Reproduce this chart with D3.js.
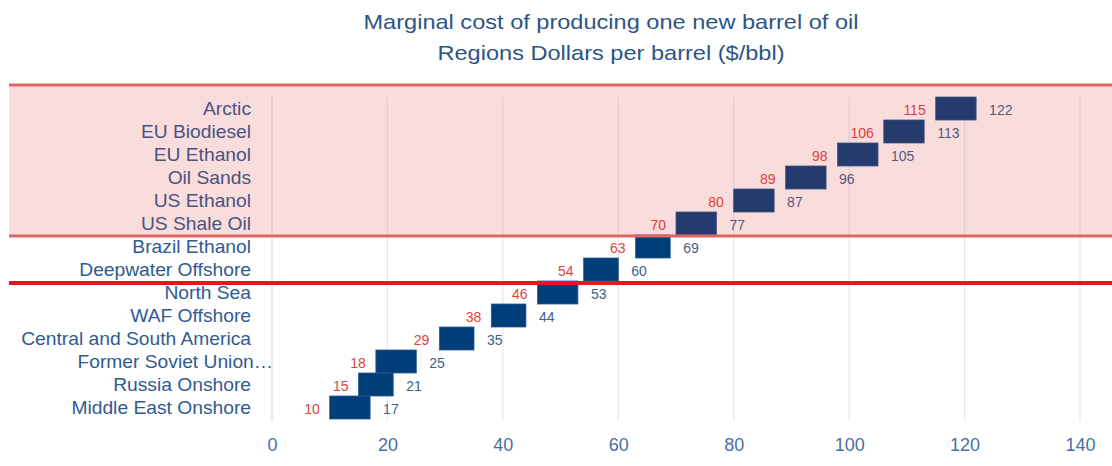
<!DOCTYPE html>
<html>
<head>
<meta charset="utf-8">
<script src="https://cdn.jsdelivr.net/npm/d3@7"></script>
<style>
  html, body { margin: 0; padding: 0; background: #ffffff; }
  svg { display: block; font-family: "Liberation Sans", Arial, sans-serif; }
</style>
</head>
<body>
<svg id="chart" width="1112" height="466"></svg>
<script>
// Regions, top of the chart first
const regions = [
  "Arctic", "EU Biodiesel", "EU Ethanol", "Oil Sands", "US Ethanol", "US Shale Oil",
  "Brazil Ethanol", "Deepwater Offshore", "North Sea", "WAF Offshore",
  "Central and South America", "Former Soviet Union\u2026", "Russia Onshore", "Middle East Onshore"
];
// Low and high marginal cost, $/bbl
const lowCost  = [115, 106, 98, 89, 80, 70, 63, 54, 46, 38, 29, 18, 15, 10];
const highCost = [122, 113, 105, 96, 87, 77, 69, 60, 53, 44, 35, 25, 21, 17];
const xTicks = [0, 20, 40, 60, 80, 100, 120, 140];
const titleLines = [
  "Marginal cost of producing one new barrel of oil",
  "Regions Dollars per barrel ($/bbl)"
];

const rows = regions.map((r, i) => ({ region: r, low: lowCost[i], high: highCost[i] }));

const svg = d3.select("#chart");

const x = d3.scaleLinear().domain([0, 140]).range([272, 1080]);
const y = d3.scaleBand().domain(regions).range([97, 419]).padding(0);

// Title, set in a slightly widened face
svg.append("g")
  .attr("transform", "translate(611,0) scale(1.15,1)")
  .selectAll("text")
  .data(titleLines)
  .join("text")
  .attr("x", 0)
  .attr("y", (d, i) => 29 + i * 31)
  .attr("text-anchor", "middle")
  .attr("font-size", 20.5)
  .attr("fill", "#2d5585")
  .text(d => d);

// Vertical gridlines
svg.append("g")
  .selectAll("line")
  .data(xTicks)
  .join("line")
  .attr("x1", d => x(d)).attr("x2", d => x(d))
  .attr("y1", 97).attr("y2", 421)
  .attr("stroke", d => d === 0 ? "#d4dae3" : "#e3e9f1")
  .attr("stroke-width", 1.2);

// Bottom axis labels
const xAxis = svg.append("g")
  .attr("transform", "translate(0,438)")
  .call(d3.axisBottom(x).tickValues(xTicks).tickSize(0).tickPadding(0));
xAxis.select(".domain").remove();
xAxis.selectAll("text")
  .attr("font-size", 18)
  .attr("font-family", "Liberation Sans, Arial, sans-serif")
  .attr("fill", "#4a70a2");

// Category axis, right edge fixed, widened face
const yAxis = svg.append("g")
  .attr("transform", "translate(251,0) scale(1.1,1)")
  .call(d3.axisLeft(y).tickSize(0).tickPadding(0));
yAxis.select(".domain").remove();
yAxis.selectAll("text")
  .attr("font-size", 17.5)
  .attr("font-family", "Liberation Sans, Arial, sans-serif")
  .attr("fill", "#2f5b91")
  .attr("dy", "0.35em")
  .attr("dx", d => d.endsWith("\u2026") ? 20 : 0);

// Floating cost bars
svg.append("g")
  .selectAll("rect")
  .data(rows)
  .join("rect")
  .attr("x", d => x(d.low))
  .attr("y", d => y(d.region))
  .attr("width", d => x(d.high) - x(d.low))
  .attr("height", y.bandwidth())
  .attr("fill", "#003e7a")
  .attr("stroke", "#2a5a8f")
  .attr("stroke-width", 0.8);

// Low cost labels
svg.append("g")
  .selectAll("text")
  .data(rows)
  .join("text")
  .attr("x", d => x(d.low) - 10)
  .attr("y", d => y(d.region) + y.bandwidth() / 2 + 6)
  .attr("text-anchor", "end")
  .attr("font-size", 14)
  .attr("fill", "#e0433d")
  .text(d => d.low);

// High cost labels
svg.append("g")
  .selectAll("text")
  .data(rows)
  .join("text")
  .attr("x", d => x(d.high) + 13)
  .attr("y", d => y(d.region) + y.bandwidth() / 2 + 6)
  .attr("text-anchor", "start")
  .attr("font-size", 14)
  .attr("fill", "#3f5f88")
  .text(d => d.high);

// Highlighted high-cost zone
const zone = svg.append("g");
zone.append("rect")
  .attr("x", 9).attr("y", 85)
  .attr("width", 1103).attr("height", 151)
  .attr("fill", "rgb(215,45,45)")
  .attr("fill-opacity", 0.16);
zone.selectAll("line")
  .data([85, 236])
  .join("line")
  .attr("x1", 9).attr("x2", 1112)
  .attr("y1", d => d).attr("y2", d => d)
  .attr("stroke", "#e06464")
  .attr("stroke-width", 3);

// Threshold line
svg.append("line")
  .attr("x1", 9).attr("x2", 1112)
  .attr("y1", 283).attr("y2", 283)
  .attr("stroke", "#e8141e")
  .attr("stroke-width", 4);
</script>
</body>
</html>
